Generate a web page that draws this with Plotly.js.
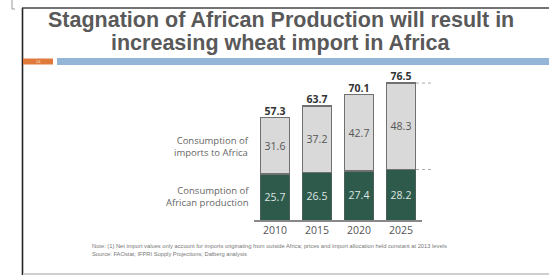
<!DOCTYPE html>
<html>
<head>
<meta charset="utf-8">
<script src="https://cdn.plot.ly/plotly-3.0.1.min.js"></script>
<style>html,body{margin:0;padding:0;background:#fff;}#chart{width:549px;height:275px;}</style>
</head>
<body>
<div id="chart"></div>
<script>
const years = ['2010', '2015', '2020', '2025'];
const production = [25.7, 26.5, 27.4, 28.2];
const imports = [31.6, 37.2, 42.7, 48.3];
const totals = [57.3, 63.7, 70.1, 76.5];
const seriesLabels = ['Consumption of<br>African production', 'Consumption of<br>imports to Africa'];
const titleLines = ['Stagnation of African Production will result in', 'increasing wheat import in Africa'];
const noteText = 'Note: (1) Net import values only account for imports originating from outside Africa; prices and import allocation held constant at 2013 levels';
const sourceText = 'Source: FAOstat; IFPRI Supply Projections; Dalberg analysis';

const W = 549, H = 275;
const px = v => v / W;
const py = v => 1 - v / H;

const green = '#2e5a4c';
const grey = '#d9d9d9';

const traces = [
  {
    type: 'bar', x: years, y: production, name: 'production',
    marker: {color: green, line: {color: '#4a5f57', width: 1}},
    text: production.map(v => v.toFixed(1)), textposition: 'inside', insidetextanchor: 'middle',
    textfont: {family: 'Open Sans, sans-serif', size: 10.5, color: '#dfe6e2'},
    hoverinfo: 'none', cliponaxis: false
  },
  {
    type: 'bar', x: years, y: imports, name: 'imports',
    marker: {color: grey, line: {color: '#707070', width: 1.6}},
    text: imports.map(v => v.toFixed(1)), textposition: 'inside', insidetextanchor: 'middle',
    textfont: {family: 'Open Sans, sans-serif', size: 10.5, color: '#555'},
    hoverinfo: 'none', cliponaxis: false
  },
  {
    type: 'scatter', mode: 'text', x: years, y: totals,
    text: totals.map(v => '<b>' + v.toFixed(1) + '</b>'), textposition: 'top center',
    textfont: {family: 'Open Sans, sans-serif', size: 10.5, color: '#333'},
    hoverinfo: 'none', cliponaxis: false
  }
];

const last = years.length - 1;
const shapes = [
  {type: 'line', xref: 'paper', yref: 'paper', x0: px(22.5), x1: px(22.5), y0: py(8), y1: py(275), line: {color: '#222', width: 1.6}},
  {type: 'line', xref: 'paper', yref: 'paper', x0: px(22), x1: px(549), y0: py(8), y1: py(8), line: {color: '#444', width: 1.6}},
  {type: 'line', xref: 'paper', yref: 'paper', x0: px(23), x1: px(549), y0: py(274), y1: py(274), line: {color: '#cfcfcf', width: 2}},
  {type: 'line', xref: 'paper', yref: 'paper', x0: px(12), x1: px(12), y0: py(0), y1: py(9), line: {color: '#999', width: 1}},
  {type: 'line', xref: 'paper', yref: 'paper', x0: px(12), x1: px(15), y0: py(9), y1: py(9), line: {color: '#999', width: 1}},
  {type: 'rect', xref: 'paper', yref: 'paper', x0: px(23), x1: px(53), y0: py(58.5), y1: py(64.5), fillcolor: '#e07a3a', line: {width: 0}},
  {type: 'rect', xref: 'paper', yref: 'paper', x0: px(57), x1: px(549), y0: py(58), y1: py(65), fillcolor: '#93b6d8', line: {width: 0}},
  {type: 'line', xref: 'paper', yref: 'y', x0: px(416), x1: px(433), y0: totals[last], y1: totals[last], line: {color: '#aaa', width: 1, dash: 'dot'}},
  {type: 'line', xref: 'paper', yref: 'y', x0: px(416), x1: px(433), y0: production[last], y1: production[last], line: {color: '#aaa', width: 1, dash: 'dot'}}
];

const titleFont = {family: 'Liberation Sans, Arial, sans-serif', size: 21.5, color: '#595959'};
const labelFont = {family: 'Open Sans, sans-serif', size: 9.5, color: '#666'};
const noteFont = {family: 'Liberation Sans, Arial, sans-serif', size: 5.75, color: '#777'};
const annotations = [
  {xref: 'paper', yref: 'paper', x: px(281), y: py(20), xanchor: 'center', yanchor: 'middle', showarrow: false,
   text: '<b>' + titleLines[0] + '</b>', font: titleFont},
  {xref: 'paper', yref: 'paper', x: px(281), y: py(43), xanchor: 'center', yanchor: 'middle', showarrow: false,
   text: '<b>' + titleLines[1] + '</b>', font: titleFont},
  {xref: 'paper', yref: 'paper', x: px(38), y: py(61.5), xanchor: 'center', yanchor: 'middle', showarrow: false,
   text: '14', font: {family: 'Liberation Sans, Arial, sans-serif', size: 4, color: '#fbe3d3'}},
  {xref: 'paper', yref: 'paper', x: px(251), y: py(196), xanchor: 'right', yanchor: 'middle', align: 'right', showarrow: false,
   text: seriesLabels[0], font: labelFont},
  {xref: 'paper', yref: 'paper', x: px(251), y: py(146), xanchor: 'right', yanchor: 'middle', align: 'right', showarrow: false,
   text: seriesLabels[1], font: labelFont},
  {xref: 'paper', yref: 'paper', x: px(90), y: py(245.5), xanchor: 'left', yanchor: 'middle', showarrow: false,
   text: noteText, font: noteFont},
  {xref: 'paper', yref: 'paper', x: px(90), y: py(254), xanchor: 'left', yanchor: 'middle', showarrow: false,
   text: sourceText, font: noteFont}
];

const layout = {
  width: W, height: H,
  margin: {l: 0, r: 0, t: 0, b: 0},
  paper_bgcolor: '#fff', plot_bgcolor: 'rgba(0,0,0,0)',
  barmode: 'stack', bargap: 0.31,
  showlegend: false,
  xaxis: {
    domain: [px(254), px(422)], type: 'category', range: [-0.5, 3.5],
    showline: true, linecolor: '#888', linewidth: 1.5, ticks: '', showgrid: false, zeroline: false,
    tickfont: {family: 'Open Sans, sans-serif', size: 10.5, color: '#555'}, fixedrange: true
  },
  yaxis: {
    domain: [py(220), py(80)], range: [0, 140 / 1.79],
    visible: false, showgrid: false, zeroline: false, fixedrange: true
  },
  shapes: shapes,
  annotations: annotations,
  font: {family: 'Open Sans, sans-serif'}
};

Plotly.newPlot('chart', traces, layout, {staticPlot: true, displayModeBar: false});
</script>
</body>
</html>
